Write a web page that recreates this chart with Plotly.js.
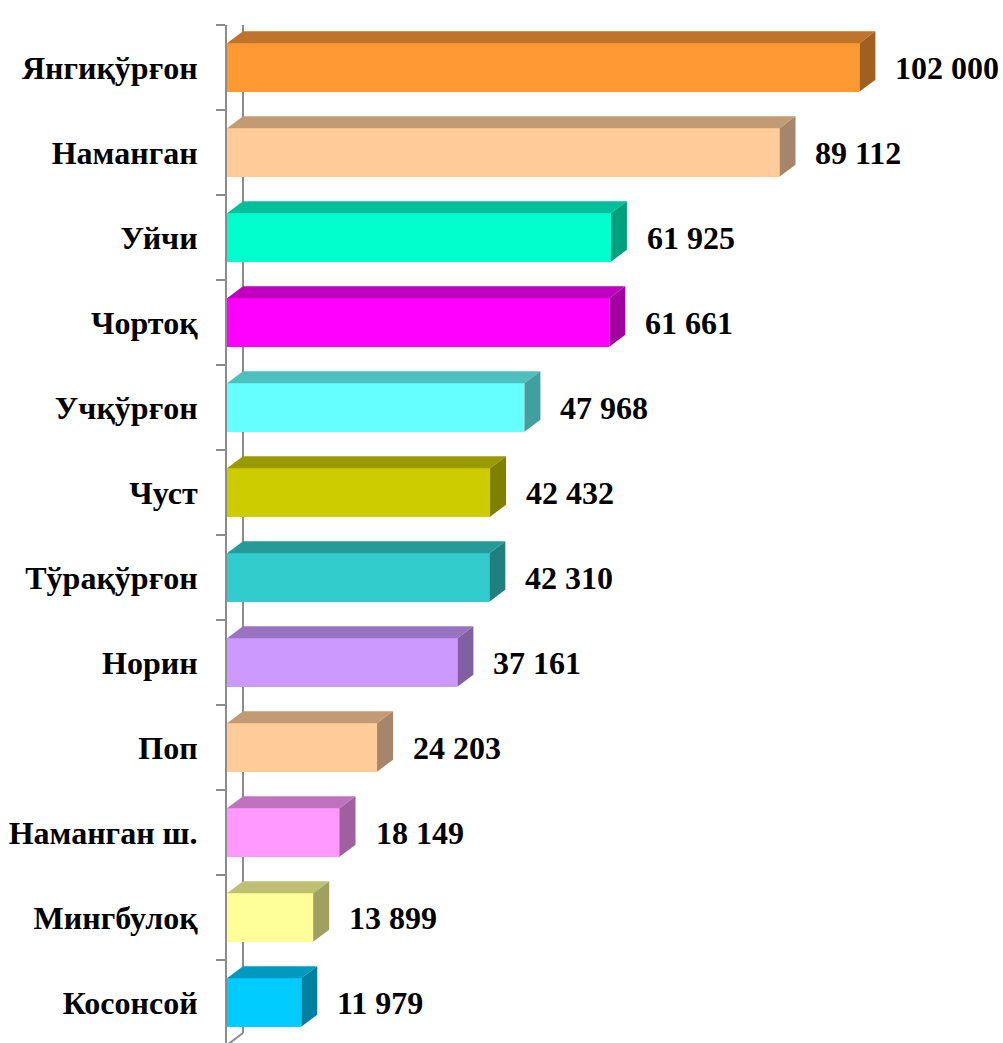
<!DOCTYPE html>
<html>
<head>
<meta charset="utf-8">
<script src="https://cdn.plot.ly/plotly-3.0.1.min.js"></script>
<style>
  html, body { margin: 0; padding: 0; background: #ffffff; overflow: hidden; }
  #chart { width: 1003px; height: 1043px; }
</style>
</head>
<body>
<div id="chart"></div>
<script>
// ---- Data ----
const categories = ["Янгиқўрғон", "Наманган", "Уйчи", "Чортоқ", "Учқўрғон", "Чуст",
  "Тўрақўрғон", "Норин", "Поп", "Наманган ш.", "Мингбулоқ", "Косонсой"];
const values = [102000, 89112, 61925, 61661, 47968, 42432, 42310, 37161, 24203, 18149, 13899, 11979];
const frontColors = ["#FF9933", "#FFCC99", "#00FFCC", "#FF00FF", "#66FFFF", "#CCCC00",
  "#33CCCC", "#CC99FF", "#FFCC99", "#FF99FF", "#FFFF99", "#00CCFF"];
const topColors = ["#C0732A", "#C29B74", "#00BF99", "#BF00BF", "#4DBFBF", "#999900",
  "#269999", "#9973BF", "#C29B74", "#BF73BF", "#BFBF73", "#0099BF"];
const sideColors = ["#A0601F", "#A6856A", "#00A07F", "#A000A0", "#40A0A0", "#808000",
  "#208080", "#8060A0", "#A6856A", "#A060A0", "#A0A060", "#0080A0"];

// ---- Layout geometry ----
const W = 1003, H = 1043;
const ML = 227, MR = 76, MT = 25, MB = 0;
const plotW = W - ML - MR;
const pxPerUnit = 0.0062;
const xMax = plotW / pxPerUnit;
const bandPx = 85;
const plotH = H - MT - MB;
const yBottom = plotH / bandPx - 0.5;
const barW = 0.57;
const DXPX = 16, DYPX = 12;
const DX = DXPX / pxPerUnit;
const DY = DYPX / bandPx;
const FONT = "Liberation Serif, Times New Roman, serif";
const axisGray = "#8C8C8C";

const idx = categories.map((_, i) => i);
const fmt = v => String(v).replace(/\B(?=(\d{3})+(?!\d))/g, " ");

const shapes = [];
// back wall line & top/bottom diagonals (behind bars)
const n = categories.length;
shapes.push({type: "line", xref: "x", yref: "y", layer: "below",
  x0: DX, x1: DX, y0: -0.5 - DY, y1: n - 0.5 - DY, line: {color: axisGray, width: 2}});
shapes.push({type: "line", xref: "x", yref: "y", layer: "below",
  x0: 0, x1: DX, y0: -0.5, y1: -0.5 - DY, line: {color: axisGray, width: 2}});
shapes.push({type: "line", xref: "x", yref: "y", layer: "below",
  x0: 0, x1: DX, y0: n - 0.5, y1: n - 0.5 - DY, line: {color: axisGray, width: 2}});

// 3D faces
idx.forEach(i => {
  const v = values[i];
  const yt = i - barW / 2, yb = i + barW / 2;
  shapes.push({type: "path", xref: "x", yref: "y", layer: "above",
    path: `M0,${yt} L${v},${yt} L${v + DX},${yt - DY} L${DX},${yt - DY} Z`,
    fillcolor: topColors[i], line: {width: 0}});
  shapes.push({type: "path", xref: "x", yref: "y", layer: "above",
    path: `M${v},${yt} L${v + DX},${yt - DY} L${v + DX},${yb - DY} L${v},${yb} Z`,
    fillcolor: sideColors[i], line: {width: 0}});
});

const annotations = idx.map(i => ({
  x: values[i], y: i, xref: "x", yref: "y",
  text: fmt(values[i]), showarrow: false,
  xanchor: "left", yanchor: "middle", xshift: 34,
  font: {family: FONT, size: 32, color: "#000000", weight: "bold"}
}));

const trace = {
  type: "bar", orientation: "h",
  x: values, y: idx,
  width: barW,
  marker: {color: frontColors, line: {width: 0}},
  hoverinfo: "skip"
};

const layout = {
  width: W, height: H,
  margin: {l: ML, r: MR, t: MT, b: MB, pad: 0},
  paper_bgcolor: "#ffffff", plot_bgcolor: "rgba(0,0,0,0)",
  showlegend: false,
  bargap: 0,
  xaxis: {range: [0, xMax], visible: false, showgrid: false, zeroline: false, fixedrange: true},
  yaxis: {
    range: [yBottom, -0.5],
    tickmode: "array", tickvals: idx, ticktext: categories,
    ticks: "", showgrid: false, zeroline: false,
    showline: true, linecolor: axisGray, linewidth: 2,
    ticklabelstandoff: 21,
    tickfont: {family: FONT, size: 32, color: "#000000", weight: "bold"},
    minor: {tickmode: "array", tickvals: idx.concat([n - 1 + 1]).map(i => i - 0.5),
      ticks: "outside", ticklen: 9, tickwidth: 2, tickcolor: axisGray, showgrid: false},
    fixedrange: true
  },
  shapes: shapes,
  annotations: annotations
};

Plotly.newPlot("chart", [trace], layout, {staticPlot: true, displayModeBar: false});
</script>
</body>
</html>
